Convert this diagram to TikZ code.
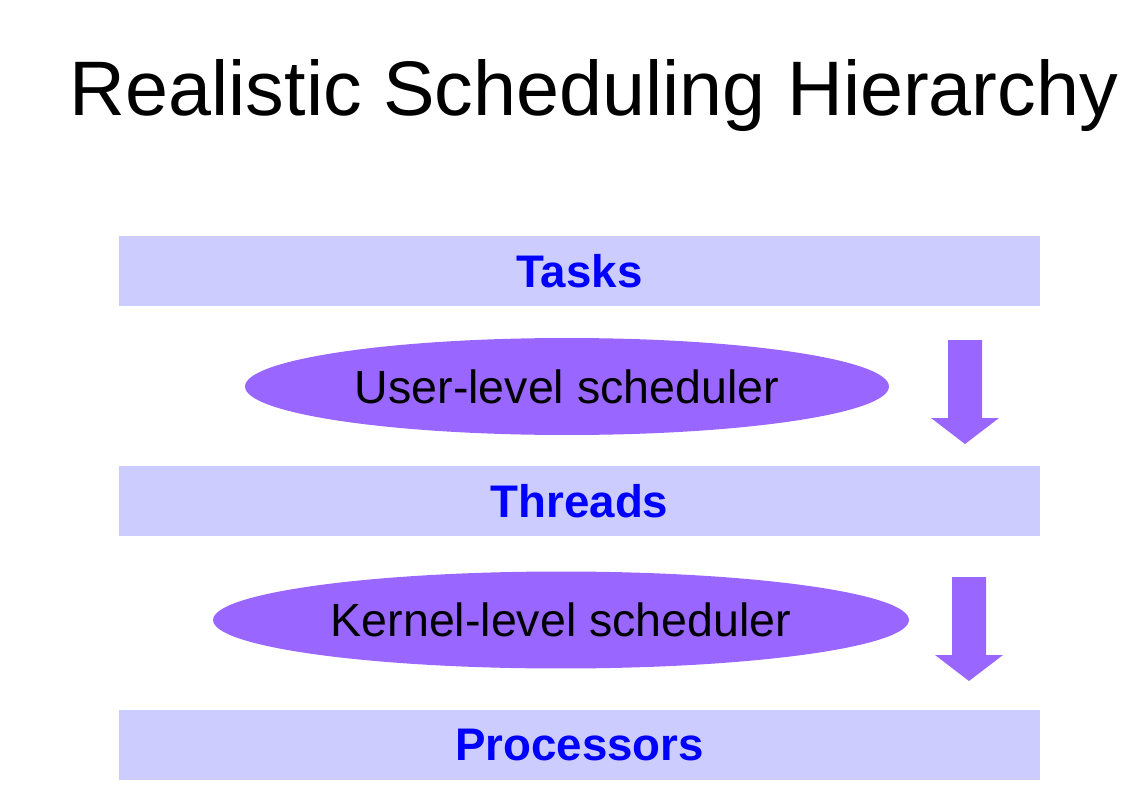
\documentclass[tikz,border=0pt]{standalone}
\usepackage{fontspec}
\setmainfont{Liberation Sans}
\usetikzlibrary{shapes.geometric}
\definecolor{barfill}{HTML}{CCCCFF}
\definecolor{schedfill}{HTML}{9966FF}
\definecolor{levelblue}{HTML}{0000FF}
\begin{document}
\begin{tikzpicture}[x=0.02cm,y=-0.02cm,
  level/.style={rectangle,fill=barfill,inner sep=0pt,minimum width=18.42cm,minimum height=1.4cm,font=\fontsize{26}{30}\selectfont\bfseries,text=levelblue},
  sched/.style={ellipse,fill=schedfill,inner sep=0pt,minimum height=1.94cm,font=\fontsize{26.5}{32}\selectfont},
  downarr/.pic={\fill[schedfill] (-17,0) -- (17,0) -- (17,78) -- (34,78) -- (0,104) -- (-34,78) -- (-17,78) -- cycle;}]
\useasboundingbox (0,0) rectangle (1134,808);
\node (title) [anchor=base,font=\fontsize{44}{52}\selectfont] at (594,115) {Realistic Scheduling Hierarchy};
\node (tasks) [level] at (579.5,271) {Tasks};
\node (user) [sched,minimum width=12.88cm] at (567,386.5) {User-level scheduler};
\node (threads) [level] at (579.5,501) {Threads};
\node (kernel) [sched,minimum width=13.92cm] at (561,620) {Kernel-level scheduler};
\node (procs) [level] at (579.5,745) {Processors};
\pic at (965,340) {downarr};
\pic at (969,577) {downarr};
\end{tikzpicture}
\end{document}
